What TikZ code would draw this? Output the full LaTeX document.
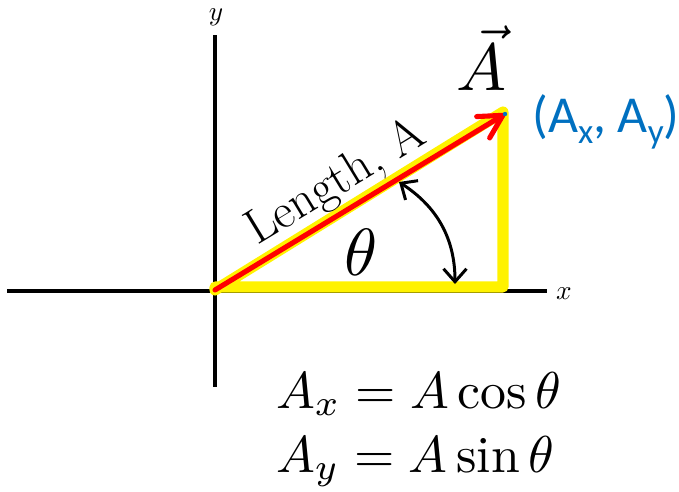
\documentclass[tikz,border=0pt]{standalone}
\usepackage{fontspec}
\newfontfamily\calib{Carlito}
\usetikzlibrary{arrows.meta}
\definecolor{offblue}{RGB}{0,112,192}
\newcommand{\cbsub}[1]{\raisebox{-6.5pt}{\fontsize{20}{20}\selectfont #1}}
\tikzset{
  axis/.style={line width=2.2pt, black},
  yel/.style={line width=6.3pt, yellow, line join=round},
  redvec/.style={line width=2.9pt, red, line cap=round, line join=round,
    -{Straight Barb[length=4.6mm,width=5mm,line cap=round,line join=round]}},
  anglearrow/.style={line width=1.7pt, black,
    {Straight Barb[length=2.6mm,width=4.6mm]}-{Straight Barb[length=2.6mm,width=4.6mm]}},
  axlabel/.style={inner sep=0pt, scale=1.55},
  mathbig/.style={inner sep=0pt, scale=3.8},
  eqn/.style={inner sep=0pt, anchor=base west, scale=2.95},
}
\begin{document}
\begin{tikzpicture}[x=0.02cm,y=-0.02cm]
\useasboundingbox (0,0) rectangle (679,491);
% axes
\coordinate (O) at (215,290);
\coordinate (xl) at (7,291);
\coordinate (xr) at (547,291);
\coordinate (yt) at (215,35);
\coordinate (yb) at (215,387);
\draw[axis] (xl) -- (xr);
\draw[axis] (yt) -- (yb);
\node[axlabel, anchor=base] (xlab) at (564,299) {$x$};
\node[axlabel, anchor=base] (ylab) at (216,20) {$y$};
% yellow triangle
\coordinate (C) at (503,287);
\coordinate (T) at (503,112);
\coordinate (Ob) at (215,287);
\draw[yel] (Ob) -- (C) -- (T) -- (O) -- cycle;
% vector
\coordinate (tip) at (505,114);
\draw[redvec] (O) -- (tip);
\fill[offblue] (tip) circle (2.2);
% labels
\node[mathbig, anchor=base] (Avec) at (482,90) {$\vec{A}$};
\node[inner sep=0pt, anchor=west, text=offblue, font=\calib\fontsize{29.5}{31}\selectfont] (coords) at (532,122) {(A\cbsub{x}, A\cbsub{y})};
\node[inner sep=0pt, anchor=base, rotate=31.3, font=\fontsize{28}{30}\selectfont] (len) at (343,194) {Length, A};
\node[mathbig, anchor=base] (theta) at (361,275) {$\theta$};
% angle arrow
\coordinate (a1) at (399,182);
\coordinate (a2) at (455,284);
\draw[anglearrow] (a1) to[out=-33,in=90] (a2);
% equations
\node[eqn] (eq1) at (275,408) {$A_x = A\cos\theta$};
\node[eqn] (eq2) at (275,472) {$A_y = A\sin\theta$};
\end{tikzpicture}
\end{document}
